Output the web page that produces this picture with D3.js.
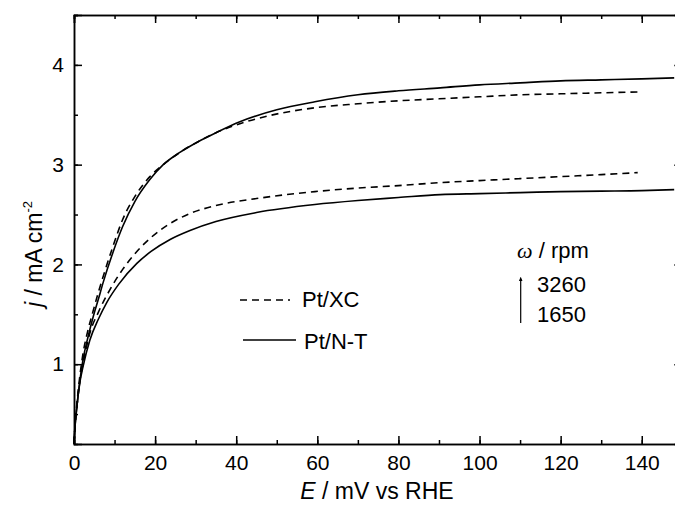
<!DOCTYPE html>
<html>
<head>
<meta charset="utf-8">
<script src="https://cdn.jsdelivr.net/npm/d3@7"></script>
<style>
  body { margin: 0; background: #fff; }
  text { font-family: "Liberation Sans", Arial, sans-serif; fill: #000; }
</style>
</head>
<body>
<div id="chart"></div>
<script>
// data (E in mV, j in mA cm-2)
const ntHighE = [0, 0.3, 0.7, 1.5, 2.2, 3.5, 4.7, 6, 7.2, 9.6, 12, 15, 18.7, 22, 26, 30.6, 35, 40.9, 50, 59.4, 70, 80, 90.3, 100, 110, 120, 130, 140, 148];
const ntHighJ = [0.2, 0.4, 0.57, 0.85, 1.04, 1.28, 1.47, 1.65, 1.82, 2.12, 2.38, 2.63, 2.85, 3.0, 3.12, 3.23, 3.32, 3.43, 3.55, 3.63, 3.70, 3.74, 3.77, 3.80, 3.82, 3.84, 3.85, 3.86, 3.87];

const xcHighE = [0, 0.3, 0.7, 1.5, 2.2, 3.5, 4.7, 6, 7.2, 9.6, 12, 15, 18.7, 22, 26, 30.6, 35, 40.9, 48, 59.4, 70, 80, 90, 100, 110, 120, 130, 140];
const xcHighJ = [0.2, 0.42, 0.6, 0.9, 1.1, 1.35, 1.53, 1.72, 1.88, 2.18, 2.45, 2.68, 2.88, 3.0, 3.12, 3.23, 3.32, 3.41, 3.49, 3.57, 3.61, 3.64, 3.66, 3.68, 3.70, 3.71, 3.72, 3.73];

const xcLowE = [0, 0.3, 0.7, 1.5, 2.2, 3.9, 6, 8.9, 12, 15.5, 19, 23.7, 28.6, 35, 45, 59.4, 70, 80, 90.3, 100, 110, 120, 130, 139];
const xcLowJ = [0.2, 0.4, 0.57, 0.85, 1.0, 1.31, 1.52, 1.75, 1.95, 2.13, 2.27, 2.41, 2.51, 2.59, 2.66, 2.73, 2.765, 2.79, 2.82, 2.84, 2.86, 2.88, 2.90, 2.92];

const ntLowE = [0, 0.3, 0.7, 1.5, 2.2, 3.9, 6, 8.1, 11, 15.5, 19, 23.7, 28.6, 35, 45, 59.4, 70, 80, 90.3, 100, 110, 120, 130, 140, 148];
const ntLowJ = [0.2, 0.4, 0.57, 0.83, 0.97, 1.24, 1.45, 1.62, 1.80, 2.01, 2.13, 2.25, 2.34, 2.43, 2.52, 2.60, 2.64, 2.67, 2.70, 2.71, 2.72, 2.73, 2.735, 2.74, 2.75];

const xTicks = [0, 20, 40, 60, 80, 100, 120, 140];
const yTicks = [1, 2, 3, 4];
const legendLabels = ["Pt/XC", "Pt/N-T"];
const rpmLabels = ["3260", "1650"];

const W = 675, H = 511;
const margin = { LEFT: 74, TOP: 15 };
const plotW = 608.3, plotH = 429;

const svg = d3.select("#chart").append("svg")
  .attr("width", W)
  .attr("height", H);

const g = svg.append("g")
  .attr("transform", `translate(${margin.LEFT}, ${margin.TOP})`);

// scales
const x = d3.scaleLinear().domain([0, 150]).range([0, plotW]);
const y = d3.scaleLinear().domain([0.2, 4.5]).range([plotH, 0]);

const line = d3.line()
  .x(d => x(d[0]))
  .y(d => y(d[1]))
  .curve(d3.curveMonotoneX);

const zip = (a, b) => a.map((v, i) => [v, b[i]]);

const series = [
  { pts: zip(xcHighE, xcHighJ), dash: "7,5" },
  { pts: zip(xcLowE, xcLowJ), dash: "7,5" },
  { pts: zip(ntHighE, ntHighJ), dash: null },
  { pts: zip(ntLowE, ntLowJ), dash: null }
];

g.selectAll(".curve")
  .data(series)
  .enter().append("path")
  .attr("class", "curve")
  .attr("fill", "none")
  .attr("stroke", "#000")
  .attr("stroke-width", 1.6)
  .attr("stroke-dasharray", d => d.dash)
  .attr("d", d => line(d.pts));

// axes, ticks inward
const minorX = d3.range(0, 151, 10);
const minorY = d3.range(0.5, 4.51, 0.5);

function styleAxis(sel) {
  sel.selectAll("path").attr("stroke", "#000").attr("stroke-width", 1.5);
  sel.selectAll("line").attr("stroke", "#000").attr("stroke-width", 1.5);
  sel.selectAll("text")
    .attr("font-family", "Liberation Sans, Arial, sans-serif")
    .attr("font-size", "21px")
    .attr("fill", "#000");
}

// bottom
g.append("g")
  .attr("transform", `translate(0, ${plotH})`)
  .call(d3.axisBottom(x).tickValues(minorX).tickSize(-4).tickFormat(""))
  .call(styleAxis);
g.append("g")
  .attr("transform", `translate(0, ${plotH})`)
  .call(d3.axisBottom(x).tickValues(xTicks).tickSize(-8).tickPadding(11).tickFormat(d3.format("d")))
  .call(styleAxis);
// top
g.append("g")
  .call(d3.axisTop(x).tickValues(minorX).tickSize(-4).tickFormat(""))
  .call(styleAxis);
g.append("g")
  .call(d3.axisTop(x).tickValues(xTicks).tickSize(-8).tickFormat(""))
  .call(styleAxis);
// left
g.append("g")
  .call(d3.axisLeft(y).tickValues(minorY).tickSize(-4).tickFormat(""))
  .call(styleAxis);
g.append("g")
  .call(d3.axisLeft(y).tickValues(yTicks).tickSize(-8).tickPadding(10).tickFormat(d3.format("d")))
  .call(styleAxis);
// right
g.append("g")
  .attr("transform", `translate(${plotW}, 0)`)
  .call(d3.axisRight(y).tickValues(minorY).tickSize(-4).tickFormat(""))
  .call(styleAxis);
g.append("g")
  .attr("transform", `translate(${plotW}, 0)`)
  .call(d3.axisRight(y).tickValues(yTicks).tickSize(-8).tickFormat(""))
  .call(styleAxis);

// axis titles
const xTitle = svg.append("text")
  .attr("x", 377)
  .attr("y", 499)
  .attr("font-size", "23px")
  .attr("text-anchor", "middle");
xTitle.append("tspan").attr("font-style", "italic").text("E");
xTitle.append("tspan").text(" / mV vs RHE");

const yTitle = svg.append("text")
  .attr("transform", "translate(42, 254) rotate(-90)")
  .attr("font-size", "23px")
  .attr("text-anchor", "middle");
yTitle.append("tspan").attr("font-style", "italic").text("j");
yTitle.append("tspan").text(" / mA cm");
yTitle.append("tspan").attr("font-size", "13px").attr("dy", -10).text("-2");

// legend
const legend = svg.append("g");
const legendRows = [
  { x1: 240, x2: 290, y: 300, tx: 302, ty: 307, dash: "7,5" },
  { x1: 243, x2: 296, y: 340, tx: 304, ty: 349, dash: null }
];
legendRows.forEach((r, i) => {
  legend.append("line")
    .attr("x1", r.x1).attr("x2", r.x2)
    .attr("y1", r.y).attr("y2", r.y)
    .attr("stroke", "#000")
    .attr("stroke-width", 1.6)
    .attr("stroke-dasharray", r.dash);
  legend.append("text")
    .attr("x", r.tx).attr("y", r.ty)
    .attr("font-size", "22px")
    .text(legendLabels[i]);
});

// rotation-rate annotation
const omega = svg.append("text")
  .attr("x", 517).attr("y", 258)
  .attr("font-size", "22px");
omega.append("tspan")
  .attr("font-family", "Liberation Serif, serif")
  .attr("font-style", "italic")
  .text("ω");
omega.append("tspan").text(" / rpm");

svg.append("defs").append("marker")
  .attr("id", "arrow")
  .attr("viewBox", "0 0 10 10")
  .attr("refX", 5).attr("refY", 5)
  .attr("markerWidth", 4).attr("markerHeight", 6)
  .attr("orient", "auto")
  .append("path")
  .attr("d", "M0,1 L10,5 L0,9 Z")
  .attr("fill", "#000");

svg.append("line")
  .attr("x1", 520.7).attr("x2", 520.7)
  .attr("y1", 323).attr("y2", 279)
  .attr("stroke", "#000")
  .attr("stroke-width", 1.2)
  .attr("marker-end", "url(#arrow)");

rpmLabels.forEach((t, i) => {
  svg.append("text")
    .attr("x", 537).attr("y", 292 + i * 30)
    .attr("font-size", "22px")
    .text(t);
});
</script>
</body>
</html>
